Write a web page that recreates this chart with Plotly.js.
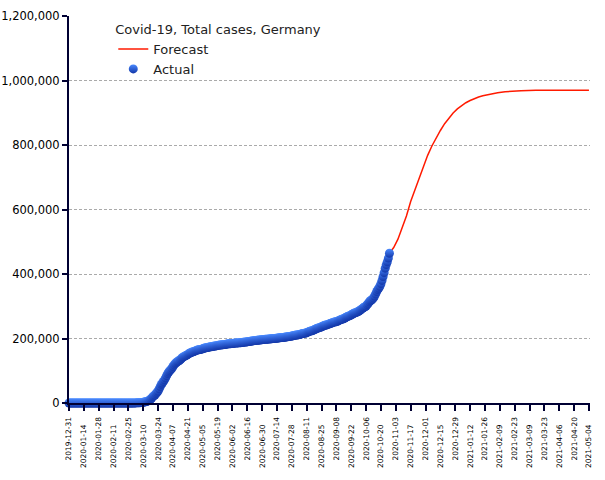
<!DOCTYPE html>
<html>
<head>
<meta charset="utf-8">
<script src="https://cdn.plot.ly/plotly-3.0.1.min.js"></script>
<style>html,body{margin:0;padding:0;background:#fff;}#chart{width:605px;height:480px;}</style>
</head>
<body>
<div id="chart"></div>
<script>
// Actual total cases, daily, 2019-12-31 .. 2020-10-28
const actualStart = '2019-12-31';
const actualCases = [
  0,
  // Jan
  0,0,0,0,0,0,0,0,0,0, 0,0,0,0,0,0,0,0,0,0, 0,0,0,0,0,0,1,4,4,5,7,
  // Feb
  8,10,12,12,12,13,14,14,14,16, 16,16,16,16,16,16,16,16,16,16, 16,16,16,16,18,21,26,57,130,
  // Mar
  165,203,262,545,670,800,1040,1224,1565,1966, 2745,3675,4599,5813,7272,9367,12327,15320,19848,22213,
  24873,29056,32986,37323,43938,50871,57695,62095,66885,71808,77872,
  // Apr
  84794,91159,96092,100123,103374,107663,113296,118181,122171,124908,
  127854,130072,131359,134753,137698,141397,143342,145184,147065,148291,
  150648,153129,154999,156513,157770,158758,159912,161539,163009,164077,
  // May
  164967,165664,166152,167007,168162,169430,170588,171324,171879,172576,
  173171,174098,174478,175233,175752,176369,176551,177778,178473,179021,
  179710,179986,180328,180600,181200,181524,182196,182922,183411,183594,183879,
  // Jun
  184121,184472,184924,185450,185750,186022,186269,186522,186839,187184,
  187764,188252,188604,188800,189135,189822,190359,190862,191449,192079,
  192556,193243,193499,194036,194259,194725,195228,195418,195893,196335,
  // Jul
  196780,197198,197523,197756,197971,198178,198556,198963,199375,199726,
  200108,200268,200530,200890,201372,201950,202426,202735,202935,203258,
  203717,204276,204881,205596,206103,206411,206710,207380,208229,209122,210141,
  // Aug
  210544,210876,211281,212022,213067,214214,215336,215891,216327,216903,
  218119,219594,221293,222828,223453,224014,225404,226914,228621,230048,
  232082,232864,233575,234853,236429,237936,239507,240986,241771,242126,243599,
  // Sep
  244802,246166,247411,248997,249985,250799,251728,252298,253474,255366,
  256850,258480,259735,260355,261737,263663,265857,267773,269048,270070,
  271415,273286,275327,277412,279025,280223,281346,282730,284140,286695,
  // Oct
  289219,291722,294395,296958,298374,300619,304999,309164,313700,317012,
  319381,321981,325786,331815,338202,345811,351738,356008,361974,370005,
  380144,392062,404122,418005,429181,437866,449275,464239
];

// Forecast
const forecastDates = [
  '2020-10-28','2020-11-01','2020-11-05','2020-11-09','2020-11-13','2020-11-17','2020-11-21','2020-11-25','2020-11-29',
  '2020-12-03','2020-12-07','2020-12-11','2020-12-15','2020-12-19','2020-12-23','2020-12-27','2020-12-31',
  '2021-01-04','2021-01-08','2021-01-12','2021-01-16','2021-01-20','2021-01-24','2021-01-31',
  '2021-02-07','2021-02-14','2021-02-21','2021-03-01','2021-03-15','2021-04-01','2021-05-04'
];
const forecastCases = [
  464239,482000,508000,545000,580000,625000,660000,700000,735000,
  768000,797000,822000,845000,866000,884000,899000,912000,
  922000,931000,938000,944000,949000,953000,958000,
  962000,965000,967000,968500,969500,970000,970000
];

const xTickLabels = [
  '2019-12-31','2020-01-14','2020-01-28','2020-02-11','2020-02-25','2020-03-10','2020-03-24',
  '2020-04-07','2020-04-21','2020-05-05','2020-05-19','2020-06-02','2020-06-16','2020-06-30',
  '2020-07-14','2020-07-28','2020-08-11','2020-08-25','2020-09-08','2020-09-22','2020-10-06',
  '2020-10-20','2020-11-03','2020-11-17','2020-12-01','2020-12-15','2020-12-29','2021-01-12',
  '2021-01-26','2021-02-09','2021-02-23','2021-03-09','2021-03-23','2021-04-06','2021-04-20','2021-05-04'
];
const yTickValues = [0, 200000, 400000, 600000, 800000, 1000000, 1200000];

function addDays(iso, n) {
  const d = new Date(iso + 'T00:00:00Z');
  d.setUTCDate(d.getUTCDate() + n);
  return d.toISOString().slice(0, 10);
}
const actualDates = actualCases.map((_, i) => addDays(actualStart, i));
const pad = '<span style="color:rgba(0,0,0,0)">-0</span>';
const tickText = xTickLabels.map((t, i) => i % 2 ? t + pad : t);

const traces = [
  {
    x: forecastDates, y: forecastCases, type: 'scatter', mode: 'lines', name: 'Forecast',
    line: {color: '#ff1a00', width: 1.5}
  },
  {
    x: actualDates, y: actualCases, type: 'scatter', mode: 'markers', name: 'Actual',
    cliponaxis: false,
    marker: {size: 9, color: '#4a8aff', line: {width: 0},
      gradient: {type: 'vertical', color: '#1236a8'}}
  }
];

const layout = {
  width: 605, height: 480,
  margin: {l: 69, r: 15, t: 16, b: 77},
  paper_bgcolor: '#fff', plot_bgcolor: '#fff',
  font: {family: 'DejaVu Sans, Verdana, sans-serif', color: '#000'},
  showlegend: true,
  legend: {
    x: 0.085, y: 0.997, xanchor: 'left', yanchor: 'top',
    bgcolor: 'rgba(0,0,0,0)', borderwidth: 0,
    font: {size: 13, color: '#222'},
    title: {text: 'Covid-19, Total cases, Germany', font: {size: 13, color: '#222'}},
    traceorder: 'normal', itemwidth: 30
  },
  xaxis: {
    type: 'date', range: ['2019-12-31', '2021-05-05'],
    tickmode: 'array', tickvals: xTickLabels, ticktext: tickText,
    tickangle: -90, tickfont: {size: 7.5, color: '#000'},
    ticks: 'outside', ticklen: 6, tickwidth: 2, tickcolor: '#000033',
    ticklabelstandoff: 3,
    showline: true, linecolor: '#000033', linewidth: 2,
    showgrid: false, zeroline: false
  },
  yaxis: {
    range: [0, 1200000], tickmode: 'array', tickvals: yTickValues,
    tickformat: ',d', tickfont: {size: 11.5, color: '#000'},
    ticks: 'outside', ticklen: 5, tickwidth: 2, tickcolor: '#000033',
    showline: true, linecolor: '#000033', linewidth: 2,
    showgrid: true, gridcolor: '#aaaaaa', griddash: '3px,2px', gridwidth: 1,
    zeroline: false
  }
};

Plotly.newPlot('chart', traces, layout, {displayModeBar: false, staticPlot: true});
</script>
</body>
</html>
